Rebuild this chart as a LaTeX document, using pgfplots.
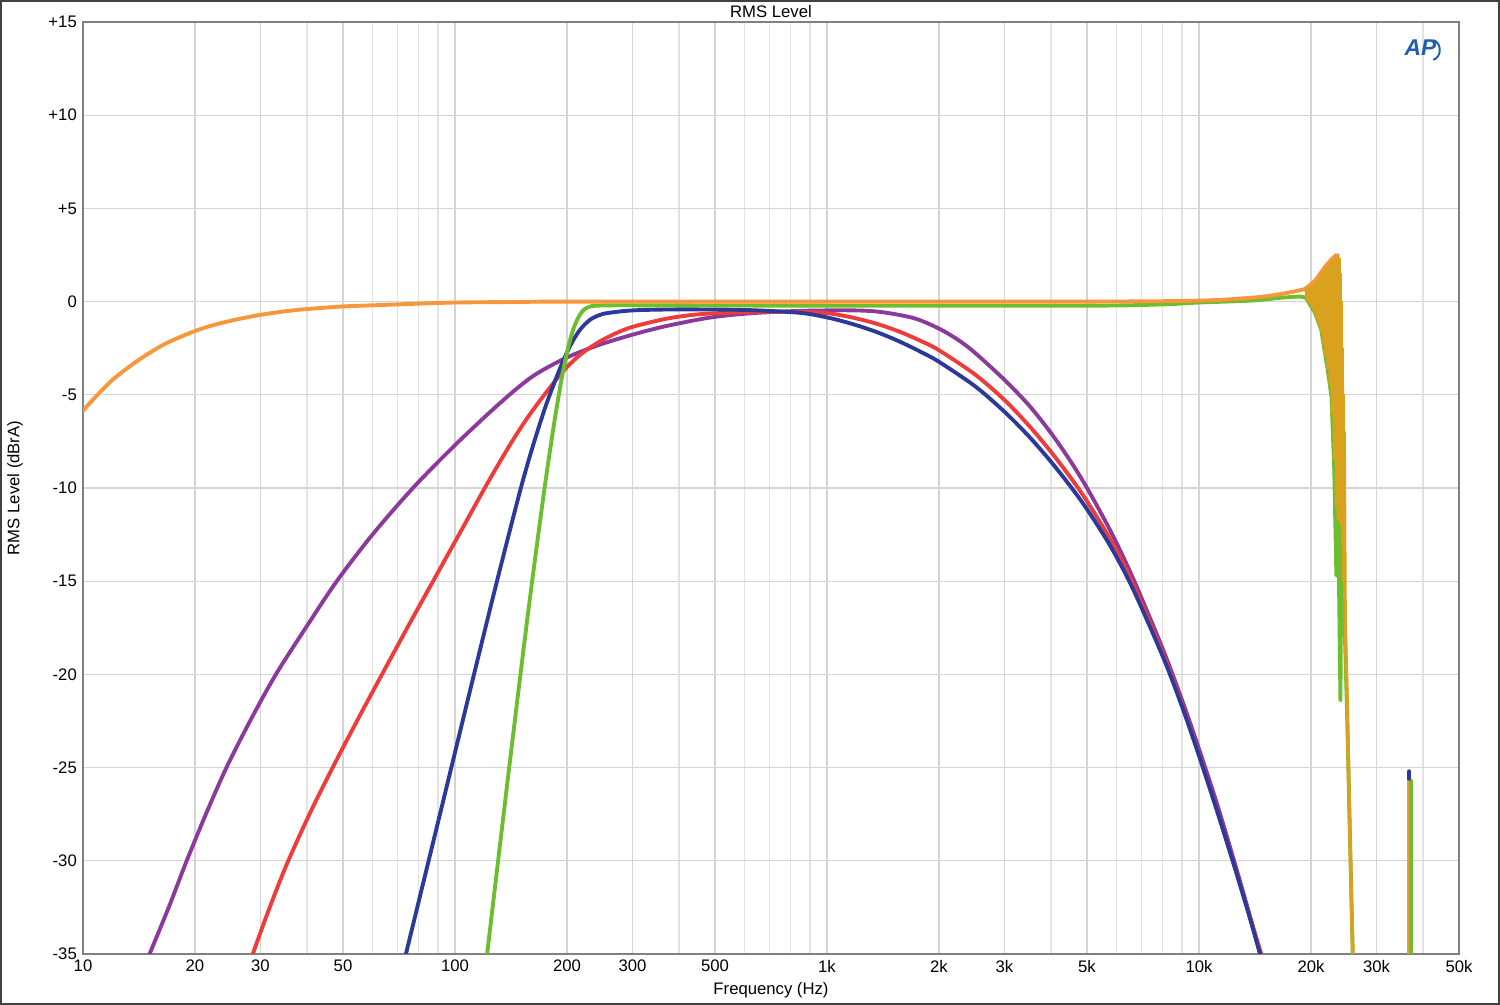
\documentclass[border=0pt]{standalone}
\usepackage{pgfplots}
\pgfplotsset{compat=1.18}
\usepackage{fontspec}
\setmainfont{Liberation Sans}

\definecolor{cpurple}{HTML}{8B3A9C}
\definecolor{cred}{HTML}{EE3B3B}
\definecolor{cblue}{HTML}{2B3A9A}
\definecolor{cgreen}{HTML}{6DBE2E}
\definecolor{corange}{HTML}{F7963A}
\definecolor{cgold}{HTML}{D9A11E}
\definecolor{apblue}{HTML}{1F5FAD}

\begin{document}
\begin{tikzpicture}[x=1cm,y=1cm]
  \useasboundingbox (0,0) rectangle (30,20.1);
  \draw[line width=1.4pt, color=black!75] (0.025,0.025) rectangle (29.975,20.075);
  \begin{axis}[
      at={(1.66cm,1.02cm)}, anchor=south west,
      scale only axis,
      width=27.52cm, height=18.64cm,
      xmode=log,
      xmin=10, xmax=50000,
      ymin=-35, ymax=15,
      font=\fontsize{9.5}{11}\selectfont,
      title={RMS Level},
      every axis title shift=0pt,
      title style={at={(axis description cs:0.5,1)}, anchor=south, inner sep=0pt, yshift=2.5pt},
      xlabel={Frequency (Hz)},
      xlabel style={at={(axis description cs:0.5,-0.0386)}, anchor=center, inner sep=0pt},
      ylabel={RMS Level (dBrA)},
      ylabel style={at={(axis description cs:-0.0494,0.5)}, anchor=center, inner sep=0pt},
      xtick={10,20,30,50,100,200,300,500,1000,2000,3000,5000,10000,20000,30000,50000},
      xticklabels={10,20,30,50,100,200,300,500,1k,2k,3k,5k,10k,20k,30k,50k},
      minor xtick={40,60,70,80,90,400,600,700,800,900,4000,6000,7000,8000,9000,40000},
      ytick={-35,-30,-25,-20,-15,-10,-5,0,5,10,15},
      yticklabels={-35,-30,-25,-20,-15,-10,-5,0,+5,+10,+15},
      major tick length=0pt, minor tick length=0pt,
      grid=both,
      major grid style={draw=black!17, line width=0.6pt},
      minor grid style={draw=black!11, line width=0.6pt},
      axis line style={draw=black!50, line width=1.1pt},
      every axis plot/.append style={line width=2.2pt, line join=round, line cap=round},
      clip=true,
    ]
    % purple band
    \addplot[cpurple, smooth] coordinates {
      (15.1,-35) (17,-32.5) (19,-30) (21.5,-27.4) (24.3,-25) (28.3,-22.4) (33,-20)
      (40,-17.4) (48.1,-15) (60,-12.5) (77.1,-10) (100,-7.7) (132,-5.45) (162,-4.0)
      (200,-3.0) (246,-2.3) (302,-1.76) (370,-1.31) (484,-0.86) (620,-0.63) (843,-0.5)
      (1160,-0.47) (1400,-0.56) (1720,-0.9) (2000,-1.45) (2250,-2.05) (2500,-2.75)
      (3000,-4.2) (3500,-5.59) (4000,-7.05) (4500,-8.52) (5000,-10.0) (5800,-12.36)
      (6650,-14.85) (8000,-18.66) (9000,-21.37) (10000,-24.0) (11200,-27.0)
      (12400,-29.94) (13500,-32.5) (14600,-35)
    };
    % red band
    \addplot[cred, smooth] coordinates {
      (28.6,-35) (31.5,-32.69) (35.3,-30.19) (41,-27.33) (48.1,-24.57) (56,-22.06)
      (65.5,-19.54) (76,-17.17) (89.3,-14.65) (104,-12.27) (121.8,-9.8) (140,-7.74)
      (157,-6.2) (180,-4.61) (200,-3.51) (221,-2.73) (246,-2.12) (272,-1.68)
      (302,-1.34) (370,-0.92) (453,-0.68) (620,-0.56) (843,-0.55) (1000,-0.62)
      (1160,-0.84) (1350,-1.17) (1570,-1.62) (1800,-2.14) (2000,-2.61) (2500,-3.91)
      (3000,-5.28) (3500,-6.68) (4000,-8.06) (4500,-9.40) (5000,-10.71) (5800,-12.83)
      (6650,-15.17) (8000,-18.91) (9000,-21.63) (10000,-24.32) (11200,-27.36)
      (12400,-30.17) (13500,-32.56) (14700,-35)
    };
    % blue band
    \addplot[cblue, smooth] coordinates {
      (73.8,-35) (85.8,-29.64) (97.2,-25.2) (112,-20.15) (129.4,-15.07) (149.6,-10.16)
      (162,-7.74) (176,-5.51) (192,-3.54) (204.5,-2.33) (217,-1.5) (230.5,-0.98)
      (244,-0.73) (258,-0.61) (302,-0.47) (400,-0.42) (600,-0.45) (843,-0.6)
      (1000,-0.85) (1160,-1.18) (1350,-1.61) (1570,-2.15) (1800,-2.73) (2000,-3.23)
      (2500,-4.54) (3000,-5.91) (3500,-7.26) (4000,-8.59) (4500,-9.88) (5000,-11.14)
      (5800,-13.17) (6650,-15.43) (8000,-19.06) (9000,-21.72) (10000,-24.36)
      (11200,-27.36) (12400,-30.19) (13500,-32.64) (14600,-35)
    };
    % green band
    \addplot[cgreen, smooth] coordinates {
      (122,-35) (130.5,-30.04) (140,-24.92) (149.5,-20.22) (160,-15.5) (174,-10.04)
      (185,-6.45) (193,-4.28) (200,-2.73) (207,-1.61) (214,-0.89) (222,-0.44)
      (232,-0.25) (250,-0.21) (300,-0.2) (1000,-0.22) (5000,-0.22) (8000,-0.15)
      (10000,-0.05) (13700,0.05) (16500,0.2) (18600,0.27) (19400,0.2)
    };
    \addplot[cgreen] coordinates {
      (19400,0.2) (20500,-0.6) (21300,-1.5) (22200,-3.7) (22700,-5.1) (23100,-9)
      (23400,-14.7) (23550,-8) (24000,-21.4) (24150,-12) (24600,-17) (25000,-22)
      (25900,-35)
    };
    % full range
    \addplot[corange, smooth] coordinates {
      (10,-5.85) (11,-4.95) (12,-4.2) (13.3,-3.5) (14.7,-2.9) (16.5,-2.3) (18.5,-1.85)
      (20.5,-1.5) (23,-1.2) (26,-0.95) (30,-0.71) (35,-0.52) (40,-0.4) (50,-0.26)
      (60,-0.2) (75,-0.13) (100,-0.05) (150,-0.02) (200,0) (1000,0) (5000,0)
      (10000,0.05) (13700,0.2) (16000,0.35) (18600,0.6) (19400,0.7)
    };
    % ringing band near cut-off
    \addplot[cgold, line width=2pt] coordinates {
      (19400,0.7) (19550,0.1) (19700,0.8) (19850,-0.05) (20000,0.9) (20150,-0.3)
      (20300,1.0) (20450,-0.55) (20600,1.2) (20750,-0.9) (20900,1.35) (21050,-1.2)
      (21200,1.5) (21350,-1.6) (21500,1.65) (21650,-2.2) (21800,1.85) (21950,-2.9)
      (22100,2.0) (22250,-3.6) (22400,2.15) (22550,-4.5) (22700,2.3) (22850,-6.0)
      (23000,2.4) (23150,-8.5) (23300,2.5) (23450,-11.0) (23600,2.5) (23700,-11.7)
      (23800,2.3) (23900,-11.5) (23950,1.5) (24050,-11) (24100,0.0) (24200,-12)
      (24250,-2.5) (24350,-13) (24400,-5) (24500,-15) (24550,-7) (24700,-17)
      (25000,-21.4) (25400,-28) (25900,-35)
    };
    \addplot[corange, line width=1.6pt] coordinates {
      (19400,0.75) (20500,1.15) (21800,1.9) (22700,2.3) (23300,2.5) (23700,2.45)
    };
    % residual tone
    \addplot[corange, line width=2pt] coordinates {(36650,-35) (36650,-25.5)};
    \addplot[cgreen, line width=2pt] coordinates {(37150,-35) (37150,-25.7)};
    \addplot[cblue, line width=2.2pt] coordinates {(36750,-25.2) (36750,-25.6)};
    \node[text=apblue, font=\fontsize{13}{13}\selectfont\bfseries\itshape, inner sep=1pt] (ap)
      at (rel axis cs:0.972,0.972) {AP};
  \end{axis}
  \draw[apblue, line width=1.1pt] ([xshift=-3pt,yshift=-1pt]ap.south east)
    arc[start angle=-80, end angle=80, x radius=0.16cm, y radius=0.2cm];
\end{tikzpicture}
\end{document}
